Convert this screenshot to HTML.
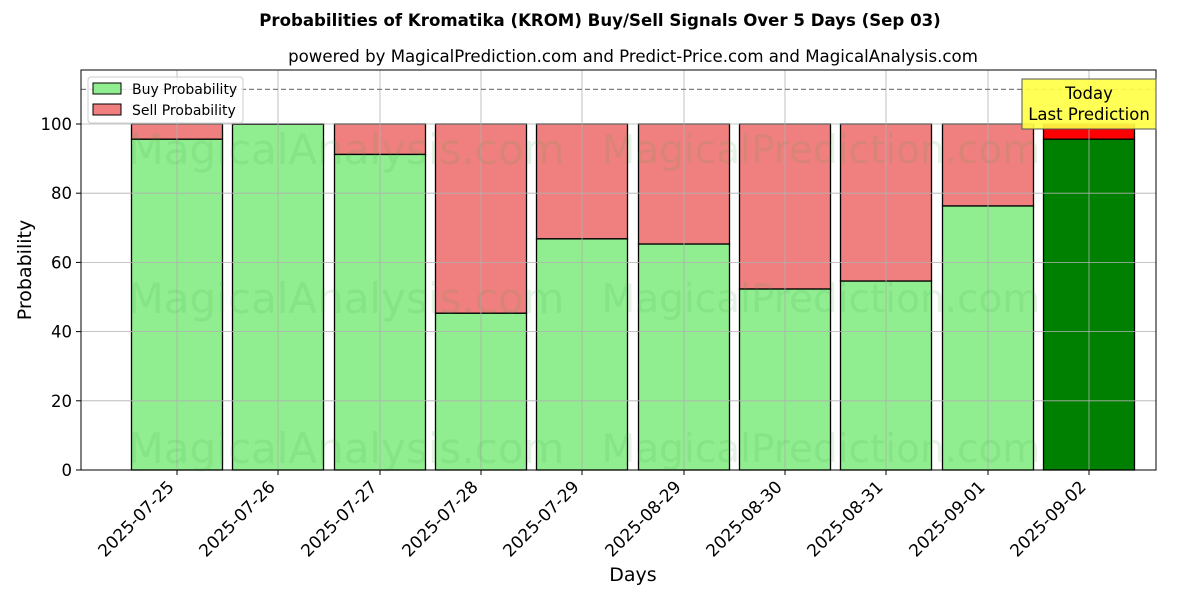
<!DOCTYPE html>
<html><head><meta charset="utf-8"><style>
body{margin:0;background:#fff;}
svg{display:block;font-family:"DejaVu Sans","Liberation Sans",sans-serif;}
</style></head><body>
<svg width="1200" height="600" viewBox="0 0 1200 600" xmlns="http://www.w3.org/2000/svg">
<rect width="1200" height="600" fill="#fff"/>
<text x="600" y="26" text-anchor="middle" font-size="16.6" font-weight="bold">Probabilities of Kromatika (KROM) Buy/Sell Signals Over 5 Days (Sep 03)</text>
<text x="633" y="62" text-anchor="middle" font-size="16.6">powered by MagicalPrediction.com and Predict-Price.com and MagicalAnalysis.com</text>

<g stroke="#000" stroke-width="1.3">
<rect x="131.5" y="124" width="91" height="15.22" fill="#f08080"/>
<rect x="131.5" y="139.22" width="91" height="330.78" fill="#90ee90"/>
<rect x="232.5" y="124" width="91" height="0.35" fill="#f08080"/>
<rect x="232.5" y="124.35" width="91" height="345.65" fill="#90ee90"/>
<rect x="334.5" y="124" width="91" height="30.45" fill="#f08080"/>
<rect x="334.5" y="154.45" width="91" height="315.55" fill="#90ee90"/>
<rect x="435.5" y="124" width="91" height="189.26" fill="#f08080"/>
<rect x="435.5" y="313.26" width="91" height="156.74" fill="#90ee90"/>
<rect x="536.5" y="124" width="91" height="114.87" fill="#f08080"/>
<rect x="536.5" y="238.87" width="91" height="231.13" fill="#90ee90"/>
<rect x="638.5" y="124" width="91" height="120.06" fill="#f08080"/>
<rect x="638.5" y="244.06" width="91" height="225.94" fill="#90ee90"/>
<rect x="739.5" y="124" width="91" height="165.04" fill="#f08080"/>
<rect x="739.5" y="289.04" width="91" height="180.96" fill="#90ee90"/>
<rect x="840.5" y="124" width="91" height="157.08" fill="#f08080"/>
<rect x="840.5" y="281.08" width="91" height="188.92" fill="#90ee90"/>
<rect x="942.5" y="124" width="91" height="82" fill="#f08080"/>
<rect x="942.5" y="206" width="91" height="264" fill="#90ee90"/>
<rect x="1043.5" y="124" width="91" height="15.22" fill="#ff0000"/>
<rect x="1043.5" y="139.22" width="91" height="330.78" fill="#008000"/>
</g>

<g stroke="#b0b0b0" stroke-width="0.8">
<line x1="177" y1="70" x2="177" y2="470"/>
<line x1="278" y1="70" x2="278" y2="470"/>
<line x1="380" y1="70" x2="380" y2="470"/>
<line x1="481" y1="70" x2="481" y2="470"/>
<line x1="582" y1="70" x2="582" y2="470"/>
<line x1="684" y1="70" x2="684" y2="470"/>
<line x1="785" y1="70" x2="785" y2="470"/>
<line x1="886" y1="70" x2="886" y2="470"/>
<line x1="988" y1="70" x2="988" y2="470"/>
<line x1="1089" y1="70" x2="1089" y2="470"/>
<line x1="81" y1="400.8" x2="1156" y2="400.8"/>
<line x1="81" y1="331.6" x2="1156" y2="331.6"/>
<line x1="81" y1="262.4" x2="1156" y2="262.4"/>
<line x1="81" y1="193.2" x2="1156" y2="193.2"/>
<line x1="81" y1="124" x2="1156" y2="124"/>
</g>

<g fill="rgba(60,160,60,0.13)" text-anchor="middle">
<text x="346" y="164" font-size="42">MagicalAnalysis.com</text>
<text x="821" y="163" font-size="39">MagicalPrediction.com</text>
<text x="346" y="313" font-size="42">MagicalAnalysis.com</text>
<text x="821" y="312" font-size="39">MagicalPrediction.com</text>
<text x="346" y="463" font-size="42">MagicalAnalysis.com</text>
<text x="821" y="462" font-size="39">MagicalPrediction.com</text>
</g>

<line x1="81" y1="89.4" x2="1156" y2="89.4" stroke="#808080" stroke-width="1.2" stroke-dasharray="5,3"/>
<rect x="81" y="70" width="1075" height="400" fill="none" stroke="#000" stroke-width="1"/>

<g stroke="#000">
<line x1="76" y1="470" x2="81" y2="470"/>
<line x1="76" y1="400.8" x2="81" y2="400.8"/>
<line x1="76" y1="331.6" x2="81" y2="331.6"/>
<line x1="76" y1="262.4" x2="81" y2="262.4"/>
<line x1="76" y1="193.2" x2="81" y2="193.2"/>
<line x1="76" y1="124" x2="81" y2="124"/>
<line x1="177" y1="470" x2="177" y2="475"/>
<line x1="278" y1="470" x2="278" y2="475"/>
<line x1="380" y1="470" x2="380" y2="475"/>
<line x1="481" y1="470" x2="481" y2="475"/>
<line x1="582" y1="470" x2="582" y2="475"/>
<line x1="684" y1="470" x2="684" y2="475"/>
<line x1="785" y1="470" x2="785" y2="475"/>
<line x1="886" y1="470" x2="886" y2="475"/>
<line x1="988" y1="470" x2="988" y2="475"/>
<line x1="1089" y1="470" x2="1089" y2="475"/>
</g>
<g font-size="16.5" text-anchor="end">
<text x="72" y="476">0</text>
<text x="72" y="406.8">20</text>
<text x="72" y="337.6">40</text>
<text x="72" y="268.4">60</text>
<text x="72" y="199.2">80</text>
<text x="72" y="130">100</text>
</g>
<g font-size="17" text-anchor="end">
<text transform="translate(175,488) rotate(-45)">2025-07-25</text>
<text transform="translate(276,488) rotate(-45)">2025-07-26</text>
<text transform="translate(378,488) rotate(-45)">2025-07-27</text>
<text transform="translate(479,488) rotate(-45)">2025-07-28</text>
<text transform="translate(580,488) rotate(-45)">2025-07-29</text>
<text transform="translate(682,488) rotate(-45)">2025-08-29</text>
<text transform="translate(783,488) rotate(-45)">2025-08-30</text>
<text transform="translate(884,488) rotate(-45)">2025-08-31</text>
<text transform="translate(986,488) rotate(-45)">2025-09-01</text>
<text transform="translate(1087,488) rotate(-45)">2025-09-02</text>
</g>
<text x="633" y="581" text-anchor="middle" font-size="19">Days</text>
<text transform="translate(31,270) rotate(-90)" text-anchor="middle" font-size="19">Probability</text>

<rect x="88" y="77" width="155" height="46" rx="3" fill="#fff" fill-opacity="0.8" stroke="#ccc"/>
<rect x="93" y="83" width="28" height="11" fill="#90ee90" stroke="#000"/>
<text x="132" y="94" font-size="14">Buy Probability</text>
<rect x="93" y="104" width="28" height="11" fill="#f08080" stroke="#000"/>
<text x="132" y="115" font-size="14">Sell Probability</text>

<rect x="1022" y="79" width="134" height="50" fill="#ffff44" fill-opacity="0.9" stroke="#555"/>
<text x="1089" y="99" text-anchor="middle" font-size="16.5">Today</text>
<text x="1089" y="120" text-anchor="middle" font-size="16.5">Last Prediction</text>
</svg>
</body></html>
